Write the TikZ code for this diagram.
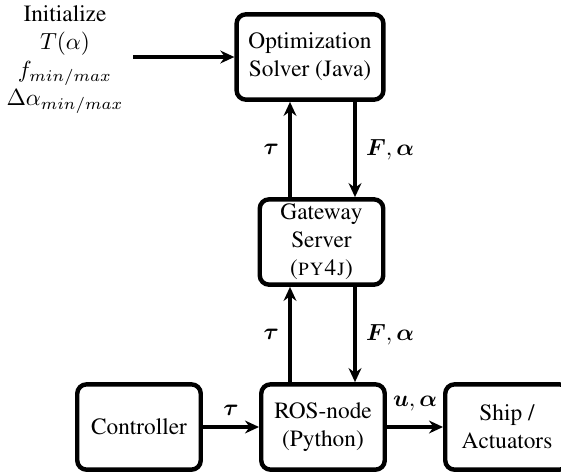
\documentclass[tikz,border=0pt]{standalone}
\usepackage{amsmath,bm}
\usepackage[T1]{fontenc}
\usepackage{times}
\usetikzlibrary{arrows.meta}
\begin{document}
\begin{tikzpicture}[x=0.429pt,y=-0.429pt,font=\rmfamily,
  blk/.style={draw,line width=1.9pt,rounded corners=4pt,align=center,inner sep=1pt,
     minimum width=53pt,minimum height=36.6pt},
  conn/.style={line width=1.6pt,-{Stealth[length=6pt,width=5.5pt]}},
  lbl/.style={inner sep=1pt}]
\useasboundingbox (0,0) rectangle (561,473);
\clip (0,0) rectangle (561,473);
\node[blk,minimum width=63pt] (opt) at (310,57) {Optimization\\Solver (Java)};
\node[blk] (gw) at (321.5,242) {Gateway\\Server\\(\textsc{py4j})};
\node[blk] (ros) at (323,427) {ROS-node\\(Python)};
\node[blk] (ctrl) at (139,427) {Controller};
\node[blk] (ship) at (507,427) {Ship /\\Actuators};
\node[align=center,inner sep=0pt] (init) at (65,60) {Initialize\\$T(\alpha)$\\$f_{min/max}$\\$\Delta\alpha_{min/max}$};
\coordinate (istart) at (133,57);
\draw[conn] (istart) -- (opt.west |- istart);
\coordinate (u1) at (290,0);
\coordinate (d1) at (355,0);
\draw[conn] (gw.north -| u1) -- (opt.south -| u1) node[lbl,midway,left=3pt] {$\bm{\tau}$};
\draw[conn] (opt.south -| d1) -- (gw.north -| d1) node[lbl,midway,right=3pt] {$\bm{F},\bm{\alpha}$};
\draw[conn] (ros.north -| u1) -- (gw.south -| u1) node[lbl,midway,left=3pt] {$\bm{\tau}$};
\draw[conn] (gw.south -| d1) -- (ros.north -| d1) node[lbl,midway,right=3pt] {$\bm{F},\bm{\alpha}$};
\draw[conn] (ctrl) -- (ros) node[lbl,midway,above=3pt] {$\bm{\tau}$};
\draw[conn] (ros) -- (ship) node[lbl,midway,above=5pt] {$\bm{u},\bm{\alpha}$};
\end{tikzpicture}
\end{document}
